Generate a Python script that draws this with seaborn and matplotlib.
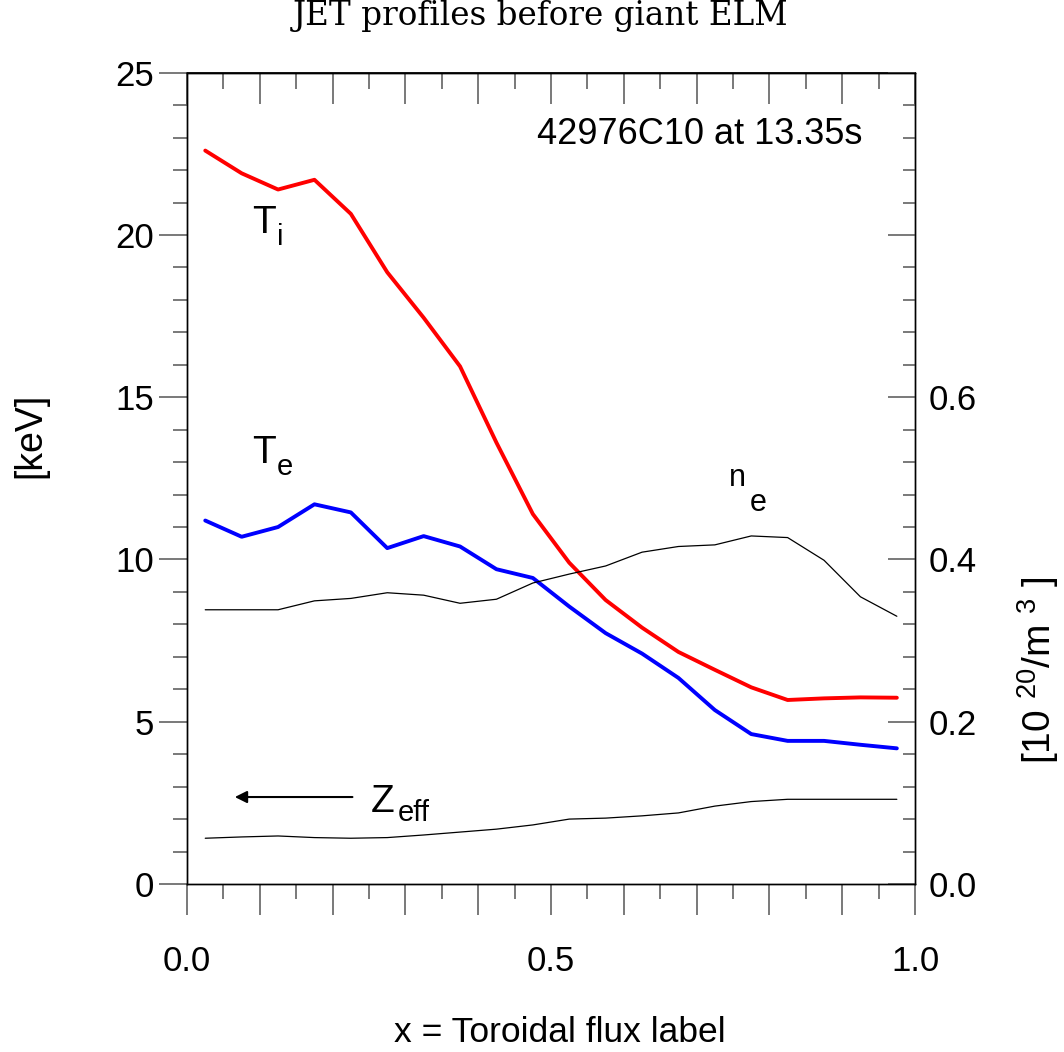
import numpy as np
import pandas as pd
import matplotlib
matplotlib.use("Agg")
import matplotlib.pyplot as plt
import seaborn as sns
from matplotlib.ticker import MultipleLocator, FuncFormatter, NullFormatter

# toroidal flux label grid and profiles
rho = [0.025, 0.075, 0.125, 0.175, 0.225, 0.275, 0.325, 0.375, 0.425, 0.475,
       0.525, 0.575, 0.625, 0.675, 0.725, 0.775, 0.825, 0.875, 0.925, 0.975]
ti = [22.6, 21.9, 21.4, 21.7, 20.65, 18.85, 17.45, 15.95, 13.6, 11.4,
      9.9, 8.75, 7.9, 7.15, 6.6, 6.06, 5.67, 5.72, 5.75, 5.74]
te = [11.2, 10.7, 11.0, 11.7, 11.45, 10.35, 10.72, 10.4, 9.7, 9.43,
      8.55, 7.73, 7.1, 6.35, 5.36, 4.62, 4.41, 4.41, 4.29, 4.18]
ne = [0.338, 0.338, 0.338, 0.349, 0.352, 0.359, 0.356, 0.346, 0.351, 0.371,
      0.382, 0.392, 0.409, 0.416, 0.418, 0.429, 0.427, 0.399, 0.354, 0.330]
zeff = [1.41, 1.45, 1.48, 1.43, 1.41, 1.43, 1.51, 1.6, 1.69, 1.82,
        2.0, 2.03, 2.1, 2.19, 2.4, 2.54, 2.61, 2.61, 2.61, 2.61]

df = pd.DataFrame({"rho": rho, "Ti": ti, "Te": te, "ne": ne, "Zeff": zeff})

sns.set_theme(style="white")
plt.rcParams['font.family'] = ['Liberation Sans', 'DejaVu Sans']
plt.rcParams['mathtext.fontset'] = 'custom'
plt.rcParams['mathtext.rm'] = 'Liberation Sans'
plt.rcParams['mathtext.it'] = 'Liberation Sans'
plt.rcParams['text.color'] = 'black'

tick_col = '#555555'

fig = plt.figure(figsize=(10.64, 10.52), dpi=100)
ax = fig.add_axes([0.1758, 0.1597, 0.6842, 0.7712])

sns.lineplot(data=df, x="rho", y="Ti", ax=ax, color="#ff0000", lw=2.8)
sns.lineplot(data=df, x="rho", y="Te", ax=ax, color="#0000ff", lw=2.8)
sns.lineplot(data=df, x="rho", y="Zeff", ax=ax, color="black", lw=0.9)
ax.set_xlim(0, 1)
ax.set_ylim(0, 25)
ax.set_xlabel('')
ax.set_ylabel('')

ax2 = ax.twinx()
sns.lineplot(data=df, x="rho", y="ne", ax=ax2, color="black", lw=0.9)
ax2.set_ylim(0, 1)
ax2.set_ylabel('')

for a in (ax, ax2):
    for s in a.spines.values():
        s.set_color('black')
        s.set_linewidth(1.0)

# bottom axis
ax.xaxis.set_major_locator(MultipleLocator(0.1))
ax.xaxis.set_minor_locator(MultipleLocator(0.05))
ax.xaxis.set_major_formatter(FuncFormatter(
    lambda v, p: f'{v:.1f}' if abs(v * 2 - round(v * 2)) < 1e-6 else ''))
ax.tick_params(axis='x', which='major', direction='out', length=22, width=1.1,
               color=tick_col, labelcolor='black', labelsize=25, pad=22,
               bottom=True, top=False)
ax.tick_params(axis='x', which='minor', direction='out', length=11, width=1.1,
               color=tick_col, bottom=True, top=False)

# left axis
ax.yaxis.set_major_locator(MultipleLocator(5))
ax.yaxis.set_minor_locator(MultipleLocator(1))
ax.tick_params(axis='y', which='major', direction='out', length=20, width=1.1,
               color=tick_col, labelcolor='black', labelsize=25, pad=4,
               left=True, right=False)
ax.tick_params(axis='y', which='minor', direction='out', length=10, width=1.1,
               color=tick_col, left=True, right=False)

# top axis, ticks only
top = ax.secondary_xaxis('top')
top.xaxis.set_major_locator(MultipleLocator(0.1))
top.xaxis.set_minor_locator(MultipleLocator(0.05))
top.xaxis.set_major_formatter(NullFormatter())
top.tick_params(axis='x', which='major', direction='in', length=22, width=1.1, color=tick_col)
top.tick_params(axis='x', which='minor', direction='in', length=11.5, width=1.1, color=tick_col)
top.spines['top'].set_color('black')

# right axis
ax2.yaxis.set_major_locator(MultipleLocator(0.2))
ax2.yaxis.set_minor_locator(MultipleLocator(0.04))
ax2.yaxis.set_major_formatter(FuncFormatter(lambda v, p: f'{v:.1f}' if v < 0.7 else ''))
ax2.tick_params(axis='y', which='major', direction='in', length=19.5, width=1.1,
                color=tick_col, labelcolor='black', labelsize=25, pad=10)
ax2.tick_params(axis='y', which='minor', direction='in', length=8.6, width=1.1, color=tick_col)

# curve labels (subscripts as separate texts, dropped like in the original)
ax.text(0.927, 23.1, '42976C10 at 13.35s', ha='right', va='center', fontsize=26)
ax.text(0.089, 20.06, 'T', ha='left', va='baseline', fontsize=28)
ax.text(0.123, 19.69, 'i', ha='left', va='baseline', fontsize=21)
ax.text(0.089, 12.97, 'T', ha='left', va='baseline', fontsize=28)
ax.text(0.123, 12.6, 'e', ha='left', va='baseline', fontsize=21)
ax.text(0.745, 12.27, 'n', ha='left', va='baseline', fontsize=22)
ax.text(0.773, 11.5, 'e', ha='left', va='baseline', fontsize=22)
ax.text(0.253, 2.22, 'Z', ha='left', va='baseline', fontsize=28)
ax.text(0.290, 1.94, 'eff', ha='left', va='baseline', fontsize=21)
ax.annotate('', xy=(0.0618, 2.68), xytext=(0.231, 2.68),
            arrowprops=dict(arrowstyle='-|>', color='black', lw=1.5, mutation_scale=18))

fig.text(30 / 1064, 1 - 435 / 1052, '[keV]', rotation=90, ha='center', va='center', fontsize=27)
fig.text(1038 / 1064, 1 - 670 / 1052, r'[10 $^{20}$/m $^{3}$ ]', rotation=90,
         ha='center', va='center', fontsize=28)
fig.text(560 / 1064, 1 - 1033 / 1052, 'x = Toroidal flux label', ha='center', va='center', fontsize=25.5)
fig.text(541 / 1064, 1 - 25 / 1052, 'JET profiles before giant ELM', family='DejaVu Serif',
         ha='center', va='baseline', fontsize=23.5)

fig.savefig('out.png', dpi=100)
